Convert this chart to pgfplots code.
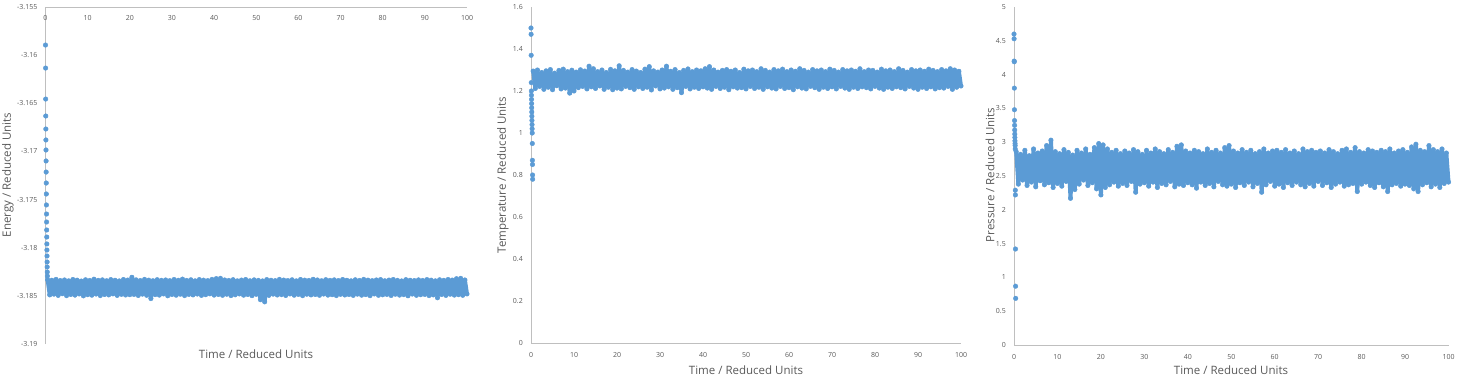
\documentclass[border=0pt]{standalone}
\usepackage{pgfplots}
\pgfplotsset{compat=1.18}
\usepackage{pgfplotstable}
\usepackage{fontspec}
\setmainfont{Open Sans}
\definecolor{exblue}{HTML}{5B9BD5}
\definecolor{axgray}{HTML}{BFBFBF}
\definecolor{txgray}{HTML}{595959}

\pgfplotstableread{
t E T P
0.5 -3.18332 1.295 2.86
1.0 -3.18490 1.212 2.38
1.5 -3.18338 1.300 2.82
2.0 -3.18482 1.222 2.44
2.5 -3.18329 1.288 2.88
3.0 -3.18495 1.208 2.36
3.5 -3.18341 1.296 2.80
4.0 -3.18478 1.218 2.41
4.5 -3.18335 1.302 2.90
5.0 -3.18498 1.206 2.34
5.5 -3.18344 1.285 2.84
6.0 -3.18486 1.225 2.43
6.5 -3.18330 1.298 2.87
7.0 -3.18492 1.210 2.37
7.5 -3.18337 1.304 2.95
8.0 -3.18480 1.214 2.40
8.5 -3.18346 1.292 3.03
9.0 -3.18500 1.190 2.33
9.5 -3.18333 1.299 2.86
10.0 -3.18488 1.200 2.39
10.5 -3.18340 1.290 2.83
11.0 -3.18493 1.216 2.35
11.5 -3.18327 1.301 2.89
12.0 -3.18481 1.222 2.42
12.5 -3.18339 1.295 2.85
13.0 -3.18497 1.210 2.17
13.5 -3.18334 1.318 2.81
14.0 -3.18486 1.220 2.30
14.5 -3.18343 1.306 2.88
15.0 -3.18490 1.212 2.38
15.5 -3.18331 1.292 2.84
16.0 -3.18479 1.224 2.44
16.5 -3.18338 1.300 2.90
17.0 -3.18495 1.208 2.36
17.5 -3.18345 1.288 2.82
18.0 -3.18484 1.218 2.40
18.5 -3.18330 1.303 2.92
19.0 -3.18491 1.206 2.31
19.5 -3.18336 1.296 2.98
20.0 -3.18488 1.214 2.22
20.5 -3.18307 1.320 2.96
21.0 -3.18485 1.210 2.33
21.5 -3.18334 1.298 2.90
22.0 -3.18496 1.222 2.37
22.5 -3.18341 1.290 2.85
23.0 -3.18482 1.216 2.41
23.5 -3.18329 1.302 2.88
24.0 -3.18494 1.208 2.35
24.5 -3.18337 1.295 2.83
25.0 -3.18528 1.220 2.39
25.5 -3.18343 1.288 2.87
26.0 -3.18487 1.212 2.36
26.5 -3.18332 1.304 2.84
27.0 -3.18492 1.218 2.42
27.5 -3.18339 1.316 2.89
28.0 -3.18480 1.205 2.26
28.5 -3.18335 1.296 2.86
29.0 -3.18499 1.224 2.38
29.5 -3.18342 1.290 2.82
30.0 -3.18486 1.210 2.40
30.5 -3.18330 1.300 2.88
31.0 -3.18493 1.214 2.35
31.5 -3.18338 1.318 2.84
32.0 -3.18483 1.220 2.41
32.5 -3.18326 1.294 2.90
33.0 -3.18497 1.208 2.33
33.5 -3.18340 1.302 2.86
34.0 -3.18485 1.216 2.39
34.5 -3.18333 1.288 2.83
35.0 -3.18490 1.192 2.37
35.5 -3.18344 1.298 2.89
36.0 -3.18481 1.222 2.42
36.5 -3.18331 1.305 2.85
37.0 -3.18495 1.210 2.34
37.5 -3.18337 1.292 2.94
38.0 -3.18488 1.218 2.38
38.5 -3.18342 1.300 2.96
39.0 -3.18479 1.212 2.36
39.5 -3.18329 1.296 2.87
40.0 -3.18492 1.220 2.40
40.5 -3.18321 1.306 2.84
41.0 -3.18486 1.214 2.37
41.5 -3.18318 1.316 2.88
42.0 -3.18494 1.208 2.32
42.5 -3.18335 1.300 2.86
43.0 -3.18483 1.222 2.41
43.5 -3.18340 1.290 2.83
44.0 -3.18497 1.212 2.36
44.5 -3.18332 1.298 2.90
45.0 -3.18489 1.218 2.39
45.5 -3.18344 1.302 2.85
46.0 -3.18480 1.206 2.34
46.5 -3.18336 1.294 2.88
47.0 -3.18493 1.220 2.42
47.5 -3.18330 1.300 2.84
48.0 -3.18486 1.214 2.37
48.5 -3.18343 1.288 2.92
49.0 -3.18498 1.216 2.35
49.5 -3.18334 1.304 2.95
50.0 -3.18484 1.210 2.38
50.5 -3.18339 1.296 2.87
51.0 -3.18540 1.222 2.33
51.5 -3.18345 1.300 2.84
52.0 -3.18562 1.212 2.40
52.5 -3.18331 1.292 2.89
53.0 -3.18495 1.218 2.36
53.5 -3.18338 1.306 2.85
54.0 -3.18482 1.208 2.41
54.5 -3.18342 1.298 2.88
55.0 -3.18491 1.220 2.34
55.5 -3.18329 1.290 2.83
56.0 -3.18487 1.214 2.39
56.5 -3.18336 1.302 2.86
57.0 -3.18496 1.210 2.26
57.5 -3.18341 1.296 2.90
58.0 -3.18480 1.222 2.37
58.5 -3.18333 1.304 2.84
59.0 -3.18493 1.212 2.42
59.5 -3.18344 1.292 2.87
60.0 -3.18485 1.216 2.35
60.5 -3.18330 1.300 2.88
61.0 -3.18498 1.206 2.38
61.5 -3.18337 1.294 2.85
62.0 -3.18483 1.220 2.33
62.5 -3.18340 1.306 2.89
63.0 -3.18490 1.214 2.40
63.5 -3.18328 1.298 2.84
64.0 -3.18486 1.210 2.36
64.5 -3.18335 1.290 2.87
65.0 -3.18494 1.222 2.41
65.5 -3.18343 1.302 2.83
66.0 -3.18481 1.216 2.37
66.5 -3.18332 1.296 2.90
67.0 -3.18492 1.208 2.34
67.5 -3.18339 1.300 2.86
68.0 -3.18488 1.218 2.39
68.5 -3.18334 1.292 2.88
69.0 -3.18497 1.212 2.35
69.5 -3.18341 1.304 2.85
70.0 -3.18484 1.220 2.42
70.5 -3.18330 1.298 2.87
71.0 -3.18491 1.210 2.36
71.5 -3.18338 1.290 2.84
72.0 -3.18486 1.222 2.40
72.5 -3.18344 1.302 2.89
73.0 -3.18495 1.214 2.33
73.5 -3.18333 1.296 2.86
74.0 -3.18482 1.208 2.38
74.5 -3.18340 1.300 2.83
75.0 -3.18493 1.218 2.41
75.5 -3.18329 1.294 2.88
76.0 -3.18487 1.212 2.35
76.5 -3.18337 1.306 2.90
77.0 -3.18498 1.220 2.37
77.5 -3.18342 1.292 2.85
78.0 -3.18480 1.216 2.39
78.5 -3.18335 1.300 2.92
79.0 -3.18494 1.210 2.27
79.5 -3.18331 1.298 2.86
80.0 -3.18489 1.222 2.38
80.5 -3.18343 1.290 2.84
81.0 -3.18485 1.214 2.41
81.5 -3.18336 1.304 2.89
82.0 -3.18496 1.208 2.36
82.5 -3.18330 1.296 2.87
83.0 -3.18483 1.218 2.33
83.5 -3.18339 1.300 2.85
84.0 -3.18492 1.212 2.40
84.5 -3.18345 1.292 2.88
85.0 -3.18487 1.220 2.34
85.5 -3.18332 1.306 2.86
86.0 -3.18499 1.216 2.27
86.5 -3.18338 1.298 2.90
87.0 -3.18481 1.210 2.37
87.5 -3.18341 1.290 2.84
88.0 -3.18494 1.222 2.39
88.5 -3.18334 1.302 2.87
89.0 -3.18488 1.214 2.35
89.5 -3.18340 1.296 2.89
90.0 -3.18485 1.208 2.38
90.5 -3.18331 1.300 2.85
91.0 -3.18497 1.218 2.36
91.5 -3.18337 1.294 2.93
92.0 -3.18490 1.212 2.31
92.5 -3.18344 1.304 2.97
93.0 -3.18520 1.220 2.27
93.5 -3.18333 1.298 2.88
94.0 -3.18486 1.210 2.37
94.5 -3.18339 1.292 2.86
95.0 -3.18495 1.216 2.40
95.5 -3.18330 1.302 2.95
96.0 -3.18483 1.214 2.34
96.5 -3.18336 1.296 2.89
97.0 -3.18492 1.222 2.38
97.5 -3.18322 1.306 2.86
98.0 -3.18488 1.208 2.33
98.5 -3.18318 1.300 2.90
99.0 -3.18494 1.218 2.39
99.5 -3.18335 1.294 2.84
100.0 -3.18480 1.224 2.41
}\band

\pgfplotstableread{
t E
0.00 -3.15895
0.02 -3.16134
0.04 -3.16456
0.06 -3.16632
0.08 -3.16767
0.10 -3.16881
0.12 -3.16985
0.14 -3.17099
0.16 -3.17214
0.18 -3.17328
0.20 -3.17442
0.22 -3.17556
0.24 -3.17650
0.26 -3.17733
0.28 -3.17816
0.30 -3.17889
0.32 -3.17961
0.34 -3.18024
0.36 -3.18086
0.38 -3.18148
0.40 -3.18200
0.42 -3.18252
0.44 -3.18294
}\Estart

\pgfplotstableread{
t T
0.00 1.500
0.02 1.470
0.04 1.370
0.06 1.240
0.08 1.200
0.10 1.180
0.12 1.160
0.14 1.140
0.16 1.120
0.18 1.100
0.20 1.080
0.22 1.060
0.24 1.040
0.26 1.020
0.28 1.000
0.30 0.950
0.32 0.870
0.34 0.850
0.36 0.800
0.38 0.780
}\Tstart

\pgfplotstableread{
t P
0.00 4.60
0.02 4.53
0.04 4.20
0.06 4.19
0.08 3.80
0.10 3.48
0.12 3.32
0.14 3.25
0.16 3.18
0.18 3.12
0.20 3.07
0.22 3.02
0.24 2.98
0.26 2.95
0.28 2.90
0.30 2.29
0.32 2.22
0.34 1.42
0.36 0.87
0.38 0.69
}\Pstart

\pgfplotsset{
  excel/.style={
    scale only axis,
    anchor=south west,
    clip=false,
    xmin=0, xmax=100,
    xtick={0,10,...,100},
    xticklabels={0,10,20,30,40,50,60,70,80,90,100},
    axis line style={draw=axgray, line width=0.8pt},
    major tick length=0pt,
    tick label style={font=\fontsize{7}{8}\selectfont, text=txgray},
    yticklabel style={anchor=east, inner sep=0pt, xshift=-8pt},
  },
  dots/.style={draw=none, mark=*, mark size=2.3pt, mark options={draw=exblue, fill=exblue}},
  bandline/.style={color=exblue, line width=4pt, line join=round, line cap=round, mark=*, mark size=2.3pt, mark options={solid, line width=0.4pt, draw=exblue, fill=exblue}},
}

\begin{document}
\begin{tikzpicture}
\useasboundingbox (0,0) rectangle (1463pt,384pt);

% Energy
\begin{axis}[excel,
  at={(45.5pt,40pt)}, width=421.5pt, height=337pt,
  axis x line*=top, axis y line*=left,
  xticklabel style={anchor=north, inner sep=0pt, yshift=-8.5pt},
  ymin=-3.19, ymax=-3.155,
  ytick={-3.19,-3.185,-3.18,-3.175,-3.17,-3.165,-3.16,-3.155},
  yticklabels={-3.19,-3.185,-3.18,-3.175,-3.17,-3.165,-3.16,-3.155},
]
\addplot[bandline] table[x=t, y=E] {\band};
\addplot[dots] table[x=t, y=E] {\Estart};
\end{axis}

% Temperature
\begin{axis}[excel,
  at={(531pt,41pt)}, width=430pt, height=336pt,
  axis x line*=bottom, axis y line*=left,
  xticklabel style={anchor=north, inner sep=0pt, yshift=-9pt},
  ymin=0, ymax=1.6,
  ytick={0,0.2,0.4,0.6,0.8,1,1.2,1.4,1.6},
  yticklabels={0,0.2,0.4,0.6,0.8,1,1.2,1.4,1.6},
]
\addplot[bandline] table[x=t, y=T] {\band};
\addplot[dots] table[x=t, y=T] {\Tstart};
\end{axis}

% Pressure
\begin{axis}[excel,
  at={(1014pt,39pt)}, width=434.5pt, height=338pt,
  axis x line*=bottom, axis y line*=left,
  xticklabel style={anchor=north, inner sep=0pt, yshift=-9pt},
  ymin=0, ymax=5,
  ytick={0,0.5,1,1.5,2,2.5,3,3.5,4,4.5,5},
  yticklabels={0,0.5,1,1.5,2,2.5,3,3.5,4,4.5,5},
]
\addplot[bandline] table[x=t, y=P] {\band};
\addplot[dots] table[x=t, y=P] {\Pstart};
\end{axis}

\begin{scope}[every node/.style={font=\fontsize{11.5}{13}\selectfont, text=txgray, inner sep=0pt}]
\node at (256pt,30pt) {Time / Reduced Units};
\node at (746pt,14pt) {Time / Reduced Units};
\node at (1231pt,14pt) {Time / Reduced Units};
\node[rotate=90] at (8pt,209pt) {Energy / Reduced Units};
\node[rotate=90] at (503pt,209pt) {Temperature / Reduced Units};
\node[rotate=90] at (990pt,209pt) {Pressure / Reduced Units};
\end{scope}
\end{tikzpicture}
\end{document}
